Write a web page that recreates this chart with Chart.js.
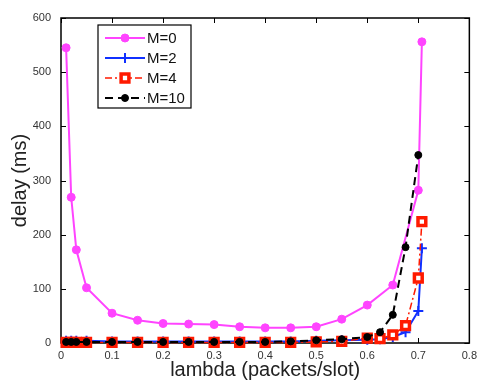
<!DOCTYPE html>
<html>
<head>
<meta charset="utf-8">
<script src="https://cdn.jsdelivr.net/npm/chart.js@4/dist/chart.umd.min.js"></script>
<style>
  body { margin: 0; background: #fff; }
  #chartDelay { display: block; }
</style>
</head>
<body>
<canvas id="chartDelay" width="483" height="380"></canvas>
<script>
  /* Datos */
  const lambdaM0 = [0.01, 0.02, 0.03, 0.05, 0.1, 0.15, 0.2, 0.25, 0.3, 0.35, 0.4, 0.45, 0.5, 0.55, 0.6, 0.65, 0.7, 0.707];
  const delayM0 = [545, 269, 172, 102, 55, 42, 36, 35, 34, 30, 28, 28, 30, 44, 70, 107, 282, 556];

  const lambdaM2 = [0.01, 0.02, 0.03, 0.05, 0.1, 0.15, 0.2, 0.25, 0.3, 0.35, 0.4, 0.45, 0.5, 0.55, 0.6, 0.625, 0.65, 0.675, 0.7, 0.707];
  const delayM2 = [4, 4, 4, 4, 3, 3, 3, 3, 3, 3, 3, 3, 4, 5, 6, 7, 11, 20, 59, 175];

  const lambdaM4 = [0.01, 0.02, 0.03, 0.05, 0.1, 0.15, 0.2, 0.25, 0.3, 0.35, 0.4, 0.45, 0.5, 0.55, 0.6, 0.625, 0.65, 0.675, 0.7, 0.707];
  const delayM4 = [1, 1, 1, 1, 1, 1, 1, 1, 1, 1, 1, 1, 2, 3, 9, 8, 15, 32, 120, 224];

  const lambdaM10 = [0.01, 0.02, 0.03, 0.05, 0.1, 0.15, 0.2, 0.25, 0.3, 0.35, 0.4, 0.45, 0.5, 0.55, 0.6, 0.625, 0.65, 0.675, 0.7];
  const delayM10 = [2, 2, 2, 2, 2, 2, 2, 2, 2, 2, 2, 3, 5, 7, 11, 20, 52, 177, 347];

  const seriesNames = ['M=0', 'M=2', 'M=4', 'M=10'];
  const xTicks = [0, 0.1, 0.2, 0.3, 0.4, 0.5, 0.6, 0.7, 0.8];
  const yTicks = [0, 100, 200, 300, 400, 500, 600];

  const fontFamily = '"Liberation Sans", Arial, Helvetica, sans-serif';

  function toPoints(xs, ys) {
    let pts = [];
    for (let i = 0; i < xs.length; i++) pts.push({ x: xs[i], y: ys[i] });
    return pts;
  }

  /* Marco y marcas hacia adentro (estilo matlab) */
  const frameTicks = {
    id: 'frameTicks',
    beforeDatasetsDraw(chart) {
      const { ctx, chartArea: a, scales } = chart;
      ctx.save();
      ctx.strokeStyle = '#000';
      ctx.lineWidth = 1.5;
      ctx.strokeRect(a.left, a.top, a.right - a.left, a.bottom - a.top);
      ctx.lineWidth = 1;
      const tl = 5;
      xTicks.forEach((v) => {
        const px = Math.round(scales.x.getPixelForValue(v)) + 0.5;
        ctx.beginPath();
        ctx.moveTo(px, a.bottom); ctx.lineTo(px, a.bottom - tl);
        ctx.moveTo(px, a.top); ctx.lineTo(px, a.top + tl);
        ctx.stroke();
      });
      yTicks.forEach((v) => {
        const py = Math.round(scales.y.getPixelForValue(v)) + 0.5;
        ctx.beginPath();
        ctx.moveTo(a.left, py); ctx.lineTo(a.left + tl, py);
        ctx.moveTo(a.right, py); ctx.lineTo(a.right - tl, py);
        ctx.stroke();
      });
      ctx.restore();
    },
    afterDraw(chart) {
      /* Leyenda dentro del area */
      const { ctx } = chart;
      const bx = 98, by = 25, bw = 93, bh = 83;
      ctx.save();
      ctx.fillStyle = '#fff';
      ctx.fillRect(bx, by, bw, bh);
      ctx.strokeStyle = '#000';
      ctx.lineWidth = 1.2;
      ctx.strokeRect(bx, by, bw, bh);
      chart.data.datasets.forEach((ds, i) => {
        const cy = by + 13 + i * 20;
        ctx.strokeStyle = ds.borderColor;
        ctx.lineWidth = ds.borderWidth;
        ctx.setLineDash(ds.borderDash || []);
        ctx.beginPath();
        ctx.moveTo(105, cy); ctx.lineTo(145, cy);
        ctx.stroke();
        ctx.setLineDash([]);
        ctx.fillStyle = ds.backgroundColor;
        ctx.strokeStyle = ds.borderColor;
        ctx.lineWidth = ds.pointBorderWidth;
        Chart.helpers.drawPoint(ctx, {
          pointStyle: ds.pointStyle,
          radius: ds.pointRadius,
          borderWidth: ds.pointBorderWidth
        }, 125, cy);
        ctx.fillStyle = '#111';
        ctx.font = '15px ' + fontFamily;
        ctx.textBaseline = 'middle';
        ctx.fillText(seriesNames[i], 147, cy + 1);
      });
      ctx.restore();
    }
  };

  const cmc = document.getElementById('chartDelay');
  const chartDelay = new Chart(cmc, {
    type: 'line',
    plugins: [frameTicks],
    data: {
      datasets: [
        {
          label: seriesNames[0],
          data: toPoints(lambdaM0, delayM0),
          borderColor: '#ff44ff',
          backgroundColor: '#ff44ff',
          borderWidth: 2,
          pointStyle: 'circle',
          pointRadius: 4,
          pointBorderWidth: 1,
          clip: false,
          order: 3,
        },
        {
          label: seriesNames[1],
          data: toPoints(lambdaM2, delayM2),
          borderColor: '#1030ff',
          backgroundColor: '#1030ff',
          borderWidth: 2,
          pointStyle: 'cross',
          pointRadius: 5,
          pointBorderWidth: 2,
          clip: false,
          order: 2,
        },
        {
          label: seriesNames[2],
          data: toPoints(lambdaM4, delayM4),
          borderColor: '#ff1a00',
          backgroundColor: '#ffffff',
          borderWidth: 1.5,
          borderDash: [7, 3, 2, 3],
          pointStyle: 'rect',
          pointRadius: 5.5,
          pointBorderWidth: 3.5,
          clip: false,
          order: 1,
        },
        {
          label: seriesNames[3],
          data: toPoints(lambdaM10, delayM10),
          borderColor: '#000000',
          backgroundColor: '#000000',
          borderWidth: 2,
          borderDash: [8, 5],
          pointStyle: 'circle',
          pointRadius: 3.5,
          pointBorderWidth: 1,
          clip: false,
          order: 0,
        },
      ],
    },
    options: {
      responsive: false,
      animation: false,
      layout: { padding: { top: 18, right: 11, left: 0, bottom: 0 } },
      plugins: {
        legend: { display: false },
        tooltip: { enabled: false },
      },
      elements: { line: { tension: 0 } },
      scales: {
        x: {
          type: 'linear',
          min: 0,
          max: 0.8,
          afterFit: (scale) => { scale.height = 37; },
          afterBuildTicks: (scale) => { scale.ticks = xTicks.map((v) => ({ value: v })); },
          grid: { display: false, drawTicks: false },
          border: { display: false },
          ticks: {
            padding: 6,
            color: '#333',
            font: { family: fontFamily, size: 11 },
            callback: (v) => v.toString(),
          },
          title: {
            display: true,
            text: 'lambda (packets/slot)',
            color: '#222',
            font: { family: fontFamily, size: 20, lineHeight: 1 },
            padding: { top: 0, bottom: 0 },
          },
        },
        y: {
          type: 'linear',
          min: 0,
          max: 600,
          afterFit: (scale) => { scale.width = 61; },
          afterBuildTicks: (scale) => { scale.ticks = yTicks.map((v) => ({ value: v })); },
          grid: { display: false, drawTicks: false },
          border: { display: false },
          ticks: {
            padding: 10,
            color: '#333',
            font: { family: fontFamily, size: 11 },
          },
          title: {
            display: true,
            text: 'delay (ms)',
            color: '#222',
            font: { family: fontFamily, size: 20, lineHeight: 1 },
            padding: { top: 10, bottom: 0 },
          },
        },
      },
    },
  });
</script>
</body>
</html>
